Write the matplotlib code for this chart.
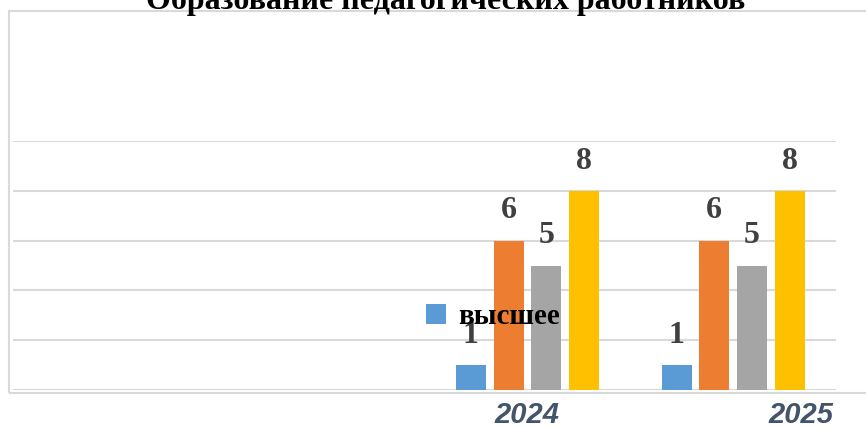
import matplotlib

matplotlib.use("Agg")
import matplotlib.pyplot as plt
import matplotlib.transforms as mtransforms
import numpy as np
from matplotlib.patches import Rectangle

# data; the first two categories are empty in the source chart
categories = ["", "", "2024", "2025"]
series_names = ["высшее", "серия 2", "серия 3", "серия 4"]
values = {
    "высшее": [0, 0, 1, 1],
    "серия 2": [0, 0, 6, 6],
    "серия 3": [0, 0, 5, 5],
    "серия 4": [0, 0, 8, 8],
}
colors = ["#5B9BD5", "#ED7D31", "#A5A5A5", "#FFC000"]
title = "Образование педагогических работников"

W, H = 866, 428
fig = plt.figure(figsize=(W / 100, H / 100), dpi=100)
ax = fig.add_axes([13 / W, 38 / H, (836 - 13) / W, (390 - 141) / H])

x = np.arange(len(categories))
step = 0.183
width = 0.146
containers = []
for i, name in enumerate(series_names):
    vals = np.array(values[name])
    offs = x + (i - 1.5) * step
    mask = vals > 0
    bc = ax.bar(offs[mask], vals[mask], width=width, color=colors[i], label=name, zorder=3)
    containers.append(bc)
    for xx, v in zip(offs[mask], vals[mask]):
        ax.annotate(str(v), (xx, v), xytext=(0, 16), textcoords="offset points",
                    ha="center", va="baseline", fontsize=23, fontweight="bold",
                    family="Liberation Serif", color="#404040", zorder=5)

ax.set_xlim(-0.5, len(categories) - 0.5)
ax.set_ylim(0, 10)
ax.set_yticks(np.arange(0, 11, 2))
ax.yaxis.grid(True, color="#D9D9D9", linewidth=1.5, zorder=0)
ax.tick_params(axis="y", left=False, labelleft=False)
ax.tick_params(axis="x", length=0, pad=8)
for s in ax.spines.values():
    s.set_visible(False)

ax.set_xticks(x[2:])
ax.set_xticklabels(categories[2:], fontsize=21, fontweight="bold", style="italic",
                   family="Liberation Sans", color="#44546A")
labs = ax.get_xticklabels()
labs[1].set_transform(labs[1].get_transform() + mtransforms.ScaledTranslation(68 / 100, 0, fig.dpi_scale_trans))

leg = ax.legend(handles=[containers[0]], loc="center left",
                bbox_to_anchor=(426 / W, 1 - 317 / H), bbox_transform=fig.transFigure,
                frameon=False, borderpad=0, borderaxespad=0, handlelength=0.68,
                handleheight=0.68, handletextpad=0.42,
                prop={"family": "Liberation Serif", "weight": "bold", "size": 21})
leg.set_zorder(6)

fig.patches.append(Rectangle((8.5 / W, 1 - 393 / H), 1, (393 - 11) / H,
                             transform=fig.transFigure, fill=False,
                             edgecolor="#D9D9D9", linewidth=1.5))
fig.text(446 / W, 1 - 9 / H, title, ha="center", va="baseline", fontsize=23,
         fontweight="bold", family="Liberation Serif", color="black")

fig.savefig("out.png", dpi=100)
plt.close(fig)
